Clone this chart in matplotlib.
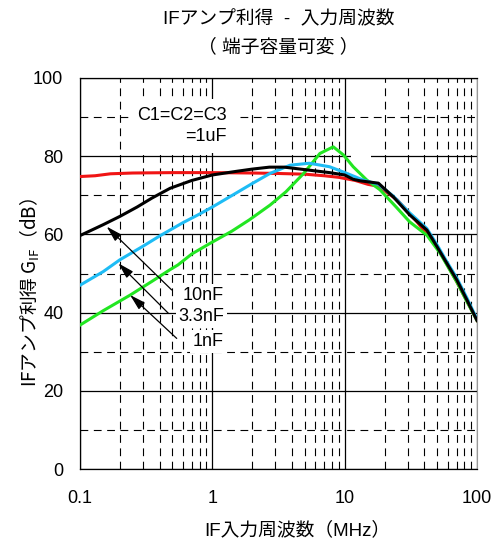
import numpy as np
import matplotlib
matplotlib.use("Agg")
import matplotlib.pyplot as plt
from matplotlib.ticker import FixedLocator, MultipleLocator, NullFormatter
from matplotlib.patches import Rectangle

plt.rcParams['font.family'] = ['Liberation Sans', 'Noto Sans CJK JP']

# data (frequency in MHz, gain in dB)
f_red = [0.1, 0.13, 0.17, 0.25, 0.5, 1, 2, 3, 5, 7, 9, 12, 15, 18, 25, 35, 50, 70, 100]
g_red = [74.8, 75.0, 75.5, 75.7, 75.8, 75.8, 75.7, 75.6, 75.4, 75.0, 74.6, 73.8, 72.8, 72.3, 68.8, 63.3, 56.8, 48.0, 38.0]

f_black = [0.1, 0.15, 0.2, 0.27, 0.35, 0.48, 0.7, 1, 1.5, 2, 2.7, 3.5, 4.9, 7.7, 10, 11.6, 13.1,
           18, 23.3, 31, 41.8, 49.8, 59.2, 70.5, 84, 100]
g_black = [59.7, 62.5, 64.6, 67.0, 69.3, 71.8, 73.8, 75.2, 76.1, 76.7, 77.2, 77.2, 76.6, 75.8, 75.2, 74.1, 73.7,
           73.1, 69.6, 65.0, 61.1, 56.9, 52.6, 48.3, 43.2, 38.0]

f_cyan = [0.1, 0.15, 0.2, 0.3, 0.4, 0.6, 0.8, 1, 1.5, 2, 2.73, 3.87, 5.4, 7.7, 10.4, 13.8,
          18, 23.3, 31, 41.8, 49.8, 59.2, 70.5, 84, 100]
g_cyan = [47.0, 50.5, 53.5, 57.0, 59.6, 63.0, 65.2, 67.0, 70.5, 73.0, 75.6, 77.7, 78.2, 77.3, 75.6, 73.9,
          72.8, 69.8, 65.5, 61.5, 57.4, 53.0, 48.8, 43.7, 38.3]

f_green = [0.1, 0.15, 0.24, 0.35, 0.48, 0.55, 0.7, 0.96, 1.4, 1.9, 2.73, 3.6, 4.9, 6.5, 8.2, 9.8,
           11.6, 14.7, 18.5, 24.5, 31, 41.8, 52.6, 70.5, 84, 100]
g_green = [36.8, 40.5, 44.5, 48.0, 51.0, 52.2, 55.0, 57.7, 60.8, 63.7, 67.5, 70.9, 75.6, 80.7, 82.4, 80.3,
           77.3, 73.9, 71.4, 67.0, 63.2, 59.8, 55.2, 47.8, 42.8, 38.0]

x_ticks = [0.1, 1, 10, 100]
x_labels = ['0.1', '1', '10', '100']
y_ticks = [0, 20, 40, 60, 80, 100]
y_labels = ['0', '20', '40', '60', '80', '100']

fig = plt.figure(figsize=(4.95, 5.42), dpi=100)
ax = fig.add_axes([80/495, 1-469/542, 397/495, 391/542])

ax.set_xscale('log')
ax.set_xlim(0.1, 100)
ax.set_ylim(0, 100)

ax.xaxis.set_major_locator(FixedLocator(x_ticks))
ax.xaxis.set_minor_locator(FixedLocator([m * d for d in [0.1, 1, 10] for m in range(2, 10)]))
ax.xaxis.set_minor_formatter(NullFormatter())
ax.set_xticklabels(x_labels)
ax.yaxis.set_major_locator(FixedLocator(y_ticks))
ax.yaxis.set_minor_locator(MultipleLocator(10))
ax.set_yticklabels(y_labels)

ax.tick_params(which='both', length=0)
ax.tick_params(axis='x', pad=15, labelsize=13)
ax.tick_params(axis='y', pad=12, labelsize=13)

ax.set_axisbelow(True)
ax.grid(which='major', color='black', lw=0.9, ls='-')
ax.grid(which='minor', color='black', lw=0.8, ls=(0, (7, 5)))

for s in ['left', 'bottom', 'top']:
    ax.spines[s].set_color('black')
    ax.spines[s].set_linewidth(0.9)
ax.spines['right'].set_color('#999999')

# small blank patch in the grid near 10-16 MHz
ax.add_patch(Rectangle((11.2, 79.2), 4.6, 10.6, facecolor='white', edgecolor='none', zorder=1))

ax.plot(f_red, g_red, color='#f01414', lw=2.2, zorder=3)
ax.plot(f_green, g_green, color='#22e622', lw=2.2, zorder=4)
ax.plot(f_cyan, g_cyan, color='#1ebcf5', lw=2.2, zorder=5)
ax.plot(f_black, g_black, color='black', lw=2.2, zorder=6)

ax.text(0.587, 87.7, 'C1=C2=C3\n=1uF', ha='center', va='center', multialignment='right',
        fontsize=13, linespacing=1.3,
        bbox=dict(facecolor='white', edgecolor='none', pad=6), zorder=2)

arrows = [('10nF', (0.851, 44.5), (0.493, 45.8), (0.159, 62.0)),
          ('3.3nF', (0.832, 39.0), (0.466, 39.8), (0.195, 52.6)),
          ('1nF', (0.928, 32.6), (0.538, 33.4), (0.239, 44.5))]
for lab, pos, tail, head in arrows:
    ax.text(pos[0], pos[1], lab, ha='center', va='center', fontsize=13,
            bbox=dict(facecolor='white', edgecolor='none', pad=2), zorder=2)
    ax.annotate('', xy=head, xytext=tail,
                arrowprops=dict(arrowstyle='-|>,head_length=0.6,head_width=0.17', color='black', lw=0.9,
                                mutation_scale=16, shrinkA=0, shrinkB=0), zorder=7)

cjk = ['Noto Sans CJK JP']
fig.text(278.5/495, 1-20/542, 'IFアンプ利得  -  入力周波数', ha='center', va='center',
         fontsize=13.5, family=['Liberation Sans', 'Noto Sans CJK JP'])
fig.text(278.5/495, 1-47/542, '（ 端子容量可変 ）', ha='center', va='center',
         fontsize=13.5, family=['Liberation Sans', 'Noto Sans CJK JP'])
fig.text(297/495, 1-530/542, 'IF入力周波数（MHz）', ha='center', va='center',
         fontsize=13.5, family=['Liberation Sans', 'Noto Sans CJK JP'])

plt.rcParams['mathtext.fontset'] = 'custom'
plt.rcParams['mathtext.rm'] = 'Noto Sans CJK JP'
fig.text(30/495, 1-293/542, 'IFアンプ利得 G$_{\\mathregular{IF}}$（dB）', ha='center', va='center',
         rotation=90, fontsize=13.5, family=cjk)

fig.savefig('out.png', dpi=100)
